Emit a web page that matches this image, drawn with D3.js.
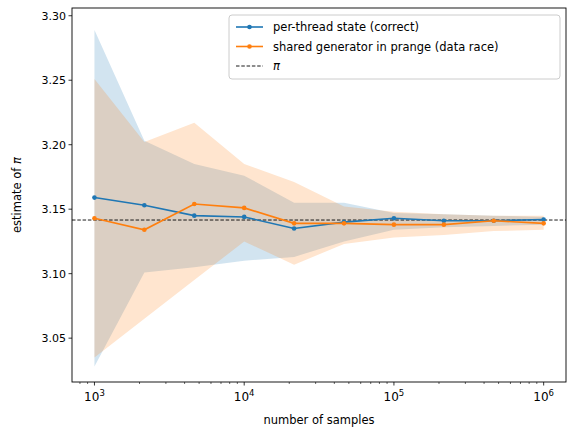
<!DOCTYPE html><html><head><meta charset="utf-8">
<script src="https://cdn.jsdelivr.net/npm/d3@7"></script>
<style>body{margin:0;background:#fff}text{font-family:"DejaVu Sans",sans-serif}</style></head><body>
<svg id="c" width="576" height="438"></svg>
<script>
const samples=[1000,2154,4642,10000,21544,46416,100000,215443,464159,1000000];
const blueMean=[3.159,3.153,3.145,3.144,3.135,3.140,3.143,3.141,3.141,3.142];
const blueHi=[3.289,3.203,3.185,3.176,3.155,3.155,3.147,3.146,3.145,3.144];
const blueLo=[3.028,3.101,3.105,3.110,3.113,3.125,3.134,3.136,3.137,3.138];
const orMean=[3.143,3.134,3.154,3.151,3.139,3.139,3.138,3.138,3.141,3.139];
const orHi=[3.251,3.202,3.217,3.185,3.171,3.152,3.148,3.146,3.145,3.145];
const orLo=[3.035,3.065,3.095,3.125,3.107,3.123,3.128,3.130,3.133,3.134];
const yTicks=[3.05,3.10,3.15,3.20,3.25,3.30];
const xTicks=[1e3,1e4,1e5,1e6];
const svg=d3.select("#c");
const L=72,R=566,T=8,B=382;
const x=d3.scaleLog().domain([708,1.41e6]).range([L,R]);
const y=d3.scaleLinear().domain([3.016,3.306]).range([B,T]);
const g=svg.append("g");
const series=[[blueMean,blueHi,blueLo,"#1f77b4"],[orMean,orHi,orLo,"#ff7f0e"]];
series.forEach(([m,h,l,c])=>{
  g.append("path").attr("fill",c).attr("fill-opacity",0.2)
   .attr("d",d3.area().x(d=>x(d)).y0((d,i)=>y(l[i])).y1((d,i)=>y(h[i]))(samples));
});
g.append("line").attr("x1",L).attr("x2",R).attr("y1",y(Math.PI)).attr("y2",y(Math.PI)).attr("stroke","#000").attr("stroke-width",0.9).attr("stroke-dasharray","3.5,1.8");
series.forEach(([m,h,l,c])=>{
  g.append("path").attr("fill","none").attr("stroke",c).attr("stroke-width",1.6)
   .attr("d",d3.line().x(d=>x(d)).y((d,i)=>y(m[i]))(samples));
  g.selectAll(null).data(samples).enter().append("circle").attr("cx",d=>x(d)).attr("cy",(d,i)=>y(m[i])).attr("r",2.3).attr("fill",c);
});
svg.append("rect").attr("x",L).attr("y",T).attr("width",R-L).attr("height",B-T).attr("fill","none").attr("stroke","#000").attr("stroke-width",0.9);
const minor=[];for(let e=2;e<=6;e++)for(let k=2;k<10;k++){const v=k*10**e;if(v>708&&v<1.41e6)minor.push(v);}
svg.selectAll(null).data(minor).enter().append("line").attr("x1",d=>x(d)).attr("x2",d=>x(d)).attr("y1",B).attr("y2",B+2).attr("stroke","#000").attr("stroke-width",0.6);
xTicks.forEach(v=>{
  svg.append("line").attr("x1",x(v)).attr("x2",x(v)).attr("y1",B).attr("y2",B+3.5).attr("stroke","#000").attr("stroke-width",0.8);
  const t=svg.append("text").attr("x",x(v)).attr("y",B+19).attr("text-anchor","middle").attr("font-size",12);
  t.append("tspan").text("10");
  t.append("tspan").attr("font-size",8.5).attr("dy",-5).text(Math.round(Math.log10(v)));
});
yTicks.forEach(v=>{
  svg.append("line").attr("x1",L-3.5).attr("x2",L).attr("y1",y(v)).attr("y2",y(v)).attr("stroke","#000").attr("stroke-width",0.8);
  svg.append("text").attr("x",L-6).attr("y",y(v)+4).attr("text-anchor","end").attr("font-size",11).text(v.toFixed(2));
});
svg.append("text").attr("x",(L+R)/2).attr("y",424).attr("text-anchor","middle").attr("font-size",11.5).text("number of samples");
const yl=svg.append("text").attr("transform",`translate(21,${(T+B)/2}) rotate(-90)`).attr("text-anchor","middle").attr("font-size",11.5);
yl.append("tspan").text("estimate of ");yl.append("tspan").attr("font-style","italic").text("π");
const lg=svg.append("g").attr("transform","translate(229,15)");
lg.append("rect").attr("width",331).attr("height",64).attr("rx",3).attr("fill","#fff").attr("fill-opacity",0.8).attr("stroke","#ccc");
const items=[["per-thread state (correct)","#1f77b4",false],["shared generator in prange (data race)","#ff7f0e",false],["π","#000",true]];
items.forEach(([t,c,d],i)=>{
  const yy=12+i*19.5;
  lg.append("line").attr("x1",7).attr("x2",34).attr("y1",yy).attr("y2",yy).attr("stroke",c).attr("stroke-width",d?0.9:1.6).attr("stroke-dasharray",d?"3.5,1.8":null);
  if(!d)lg.append("circle").attr("cx",20.5).attr("cy",yy).attr("r",2.3).attr("fill",c);
  lg.append("text").attr("x",44).attr("y",yy+4).attr("font-size",11.5).attr("font-style",d?"italic":null).text(t);
});
</script></body></html>
